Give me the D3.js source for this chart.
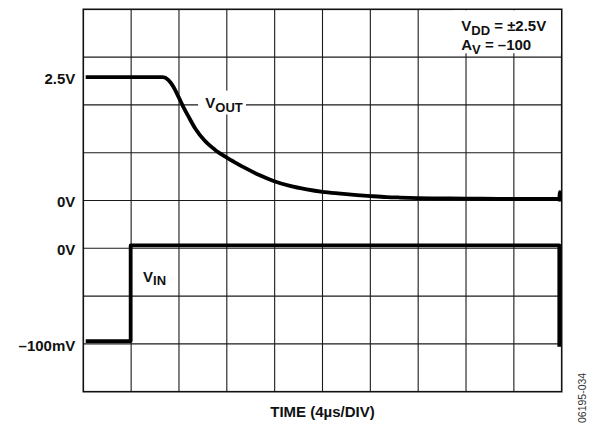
<!DOCTYPE html>
<html>
<head>
<meta charset="utf-8">
<script src="https://cdn.jsdelivr.net/npm/d3@7"></script>
<style>
  body { margin: 0; background: #fff; }
  svg { display: block; }
  .grid line { stroke: #1a1a1a; stroke-width: 1.1; }
  .frame { fill: none; stroke: #111; stroke-width: 1.6; }
  .trace { fill: none; stroke: #000; stroke-width: 3.8; stroke-linejoin: round; }
  .lbl { font-family: "Liberation Sans", Arial, sans-serif; font-weight: bold; fill: #111; }
  .code { font-family: "Liberation Sans", Arial, sans-serif; fill: #333; }
</style>
</head>
<body>
<script>
/* scope traces, time in divisions (4us/div) */
var voutTime  = [0.05, 1.66, 1.78, 1.88, 1.99, 2.09, 2.20, 2.34, 2.54, 2.75, 3.00, 3.14, 3.42,
                 3.69, 3.99, 4.32, 4.67, 5.00, 5.37, 5.72, 6.01, 6.34, 6.62, 7.00, 8.00, 9.00,
                 9.95, 9.96, 9.965]
var voutVolts = [2.50, 2.50, 2.44, 2.31, 2.10, 1.90, 1.70, 1.46, 1.21, 1.03, 0.87, 0.79, 0.64,
                 0.51, 0.39, 0.295, 0.225, 0.175, 0.14, 0.11, 0.09, 0.07, 0.06, 0.05, 0.04, 0.03,
                 0.03, 0.17, -0.02]

var vinTime = [0.05, 0.99, 0.99, 9.95, 9.95]
var vinMilliVolts = [-97, -97, 3, 3, -103]

/* y labels for each channel */
var outTickValues = [2.5, 0]
var outTickLabels = ["2.5V", "0V"]
var inTickValues = [0, -100]
var inTickLabels = ["0V", "\u2013100mV"]

var xDivs = 10
var yDivs = 8

var W = 595, H = 426
var margin = {left: 83.3, top: 9.3, right: 33.3, bottom: 34.3}

function main()
{
  var svg = d3.select("body")
    .append("svg")
    .attr("width", W)
    .attr("height", H)

  var x = d3.scaleLinear()
    .domain([0, xDivs])
    .range([margin.left, W - margin.right])

  var gridY = d3.scaleLinear()
    .domain([0, yDivs])
    .range([H - margin.bottom, margin.top])

  /* channel 1 (output): 0V on 4th division, 2.5V sits ~2.58 div above */
  var yOut = d3.scaleLinear()
    .domain([0, 2.5])
    .range([gridY(4), gridY(6.58)])

  /* channel 2 (input): 0V on 3rd division, 100mV/div */
  var yIn = d3.scaleLinear()
    .domain([-100, 0])
    .range([gridY(1), gridY(3)])

  drawGrid(svg, x, gridY)

  /* white boxes that the labels cut out of the grid */
  svg.append("rect")
    .attr("x", x(2.4)).attr("y", gridY(6.3))
    .attr("width", x(3.4) - x(2.4)).attr("height", gridY(5.8) - gridY(6.3))
    .attr("fill", "#fff")

  svg.append("rect")
    .attr("x", x(7.73)).attr("y", margin.top + 1)
    .attr("width", x(10) - x(7.73) - 1).attr("height", gridY(7.08) - margin.top - 1)
    .attr("fill", "#fff")

  addTraces(svg, x, yOut, yIn)
  addAxes(svg, yOut, yIn)
  addLabels(svg, x, yOut, yIn)
}

function drawGrid(svg, x, gridY)
{
  var g = svg.append("g").attr("class", "grid")

  g.selectAll(".v")
    .data(d3.range(1, xDivs))
    .enter()
    .append("line")
    .attr("class", "v")
    .attr("x1", function(d) { return x(d) })
    .attr("x2", function(d) { return x(d) })
    .attr("y1", gridY(0))
    .attr("y2", gridY(yDivs))

  g.selectAll(".h")
    .data(d3.range(1, yDivs))
    .enter()
    .append("line")
    .attr("class", "h")
    .attr("x1", x(0))
    .attr("x2", x(xDivs))
    .attr("y1", function(d) { return gridY(d) })
    .attr("y2", function(d) { return gridY(d) })

  svg.append("rect")
    .attr("class", "frame")
    .attr("x", x(0))
    .attr("y", gridY(yDivs))
    .attr("width", x(xDivs) - x(0))
    .attr("height", gridY(0) - gridY(yDivs))
}

function addTraces(svg, x, yOut, yIn)
{
  var outLine = d3.line()
    .x(function(d, i) { return x(voutTime[i]) })
    .y(function(d) { return yOut(d) })
    .curve(d3.curveMonotoneX)

  var inLine = d3.line()
    .x(function(d, i) { return x(vinTime[i]) })
    .y(function(d) { return yIn(d) })

  svg.append("path")
    .attr("class", "trace")
    .attr("d", outLine(voutVolts))

  svg.append("path")
    .attr("class", "trace")
    .attr("d", inLine(vinMilliVolts))
}

function addAxes(svg, yOut, yIn)
{
  var outAxis = d3.axisLeft(yOut)
    .tickValues(outTickValues)
    .tickFormat(function(d, i) { return outTickLabels[i] })
    .tickSize(0)
    .tickPadding(8)

  var inAxis = d3.axisLeft(yIn)
    .tickValues(inTickValues)
    .tickFormat(function(d, i) { return inTickLabels[i] })
    .tickSize(0)
    .tickPadding(8)

  ;[outAxis, inAxis].forEach(function(ax)
  {
    var g = svg.append("g")
      .attr("transform", "translate(" + margin.left + ",0)")
      .call(ax)
    g.select(".domain").remove()
    g.selectAll("text")
      .attr("class", "lbl")
      .attr("font-size", 15)
      .attr("font-family", null)
      .attr("dy", "0.42em")
  })
}

/* helper for text with a subscript */
function subText(svg, px, py, main, sub, rest)
{
  var t = svg.append("text")
    .attr("class", "lbl")
    .attr("x", px)
    .attr("y", py)
    .attr("font-size", 15)
  t.append("tspan").text(main)
  t.append("tspan").attr("font-size", 13).attr("dy", 3.5).text(sub)
  if (rest) t.append("tspan").attr("dy", -3.5).text(rest)
  return t
}

function addLabels(svg, x, yOut, yIn)
{
  subText(svg, x(2.55), yOut(1.87), "V", "OUT")
  subText(svg, x(1.25), yIn(-35), "V", "IN")

  subText(svg, x(7.9), 31, "V", "DD", " = \u00b12.5V")
  subText(svg, x(7.9), 50, "A", "V", " = \u2013100")

  svg.append("text")
    .attr("class", "lbl")
    .attr("x", x(5))
    .attr("y", 416.5)
    .attr("text-anchor", "middle")
    .attr("font-size", 15)
    .text("TIME (4\u00b5s/DIV)")

  svg.append("text")
    .attr("class", "code")
    .attr("transform", "translate(586,423) rotate(-90)")
    .attr("font-size", 10.5)
    .text("06195-034")
}

main()
</script>
</body>
</html>
